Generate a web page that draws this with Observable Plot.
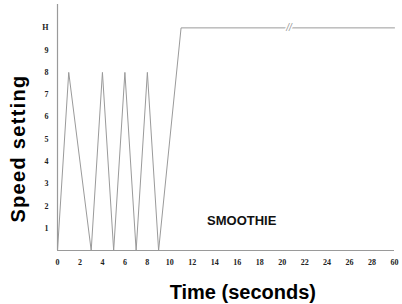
<!DOCTYPE html>
<html>
<head>
<meta charset="utf-8">
<script src="https://cdn.jsdelivr.net/npm/d3@7"></script>
<script src="https://cdn.jsdelivr.net/npm/@observablehq/plot@0.6"></script>
<style>
  html, body { margin: 0; padding: 0; background: #fff; }
</style>
</head>
<body>
<div id="chart"></div>
<script>
// Time positions (axis units; the last tick position 30 is labelled "60" because of the axis break)
const times  = [0, 1, 3, 4, 5, 6, 7, 8, 9, 11, 30];
const speeds = [0, 8, 0, 8, 0, 8, 0, 8, 0, 10, 10];

const xTickValues = [0, 2, 4, 6, 8, 10, 12, 14, 16, 18, 20, 22, 24, 26, 28, 30];
const xTickLabels = ["0", "2", "4", "6", "8", "10", "12", "14", "16", "18", "20", "22", "24", "26", "28", "60"];
const yTickValues = [1, 2, 3, 4, 5, 6, 7, 8, 9, 10];
const yTickLabels = ["1", "2", "3", "4", "5", "6", "7", "8", "9", "H"];

const annotation = [{x: 16.4, y: 1.35, text: "SMOOTHIE"}];
const breakMark = [{x: 20.6, y: 10, text: "//"}];
const yTitle = [{x: -3.5, y: 4.58, text: "Speed setting"}];
const xTitle = [{x: 16.5, y: -1.87, text: "Time (seconds)"}];

const data = times.map((t, i) => ({t, s: speeds[i]}));
const lineColor = "#9a9a9a";
const tickFont = "'Liberation Serif', 'DejaVu Serif', serif";
const labelFont = "'Liberation Sans', Arial, sans-serif";

const chart = Plot.plot({
  width: 402,
  height: 304,
  marginLeft: 57,
  marginRight: 8,
  marginTop: 4,
  marginBottom: 54,
  style: {background: "#fff", overflow: "visible"},
  x: {domain: [0, 30]},
  y: {domain: [0, 11.05]},
  marks: [
    Plot.axisX({ticks: xTickValues, tickSize: 0, tickPadding: 9, label: null,
      tickFormat: d => xTickLabels[xTickValues.indexOf(d)],
      fontSize: 8, fontWeight: "bold", fontFamily: tickFont, fill: "#222"}),
    Plot.axisY({ticks: yTickValues, tickSize: 0, tickPadding: 9, label: null,
      tickFormat: d => yTickLabels[yTickValues.indexOf(d)],
      fontSize: 8, fontWeight: "bold", fontFamily: tickFont, fill: "#222"}),
    Plot.ruleX([0], {stroke: lineColor, strokeWidth: 1.2}),
    Plot.ruleY([0], {stroke: lineColor, strokeWidth: 1.2}),
    Plot.line(data, {x: "t", y: "s", stroke: lineColor, strokeWidth: 1}),
    Plot.text(breakMark, {x: "x", y: "y", text: "text", fill: lineColor, fontSize: 10,
      fontStyle: "italic", stroke: "#fff", strokeWidth: 3, fontFamily: labelFont}),
    Plot.text(annotation, {x: "x", y: "y", text: "text", fontSize: 13, fontWeight: "bold",
      fontFamily: labelFont, fill: "#111"}),
    Plot.text(yTitle, {x: "x", y: "y", text: "text", rotate: -90, clip: false,
      fontSize: 20, fontWeight: "bold", fontFamily: labelFont, fill: "#000"}),
    Plot.text(xTitle, {x: "x", y: "y", text: "text", clip: false,
      fontSize: 20, fontWeight: "bold", fontFamily: labelFont, fill: "#000"})
  ]
});
d3.select(chart).selectAll("text").filter(function() { return this.textContent === "Speed setting"; })
  .attr("letter-spacing", "1.3px");
document.getElementById("chart").appendChild(chart);
</script>
</body>
</html>
